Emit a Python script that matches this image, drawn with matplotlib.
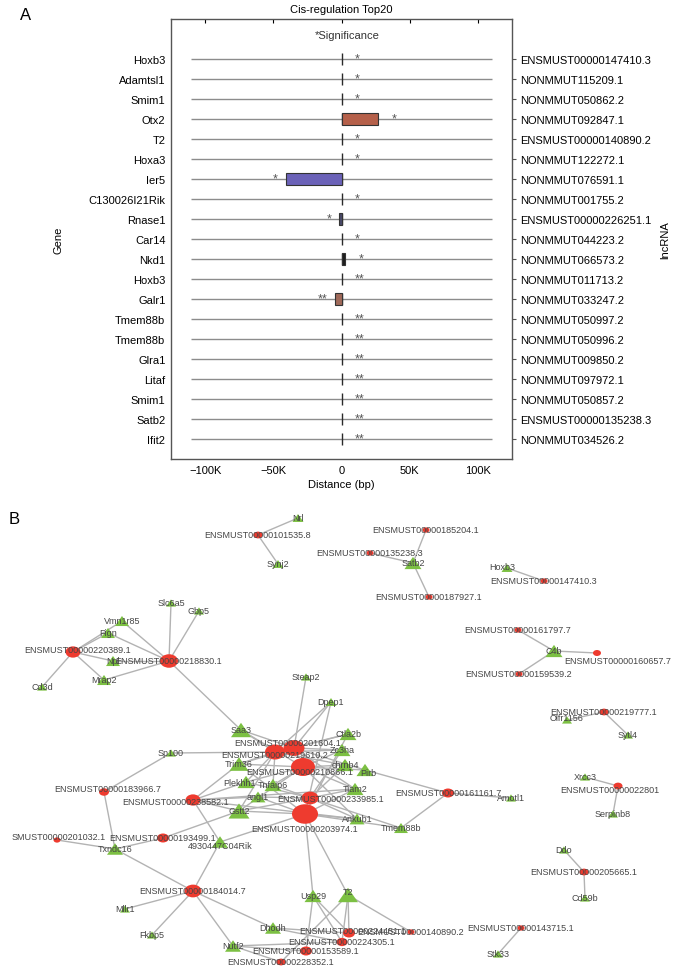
import matplotlib
matplotlib.use("Agg")
import matplotlib.pyplot as plt
from matplotlib.patches import Ellipse, Polygon
from matplotlib.collections import LineCollection

plt.rcParams["font.family"] = ["Liberation Sans", "DejaVu Sans"]

# ---- panel A data ----
genes = ["Hoxb3", "Adamtsl1", "Smim1", "Otx2", "T2", "Hoxa3", "Ier5", "C130026I21Rik",
         "Rnase1", "Car14", "Nkd1", "Hoxb3", "Galr1", "Tmem88b", "Tmem88b", "Glra1",
         "Litaf", "Smim1", "Satb2", "Ifit2"]
lncrnas = ["ENSMUST00000147410.3", "NONMMUT115209.1", "NONMMUT050862.2", "NONMMUT092847.1",
           "ENSMUST00000140890.2", "NONMMUT122272.1", "NONMMUT076591.1", "NONMMUT001755.2",
           "ENSMUST00000226251.1", "NONMMUT044223.2", "NONMMUT066573.2", "NONMMUT011713.2",
           "NONMMUT033247.2", "NONMMUT050997.2", "NONMMUT050996.2", "NONMMUT009850.2",
           "NONMMUT097972.1", "NONMMUT050857.2", "ENSMUST00000135238.3", "NONMMUT034526.2"]
distance = [0, 0, 0, 27000, 0, 0, -41000, 0, -1500, 0, 2500, 0, -5000, 0, 0, 0, 0, 0, 0, 0]
signif = ["*"] * 11 + ["**"] * 9
bar_colors = {3: "#b5604a", 6: "#6b62b8", 8: "#4a4a6a", 10: "#1e1e1e", 12: "#a06a5a"}

# ---- panel B data (node centres in pixel space, width in px) ----
lnc_nodes = {
    "ENSMUST00000101535.8": (258, 536, 9),
    "ENSMUST00000185204.1": (426, 531, 7),
    "ENSMUST00000135238.3": (370, 554, 7),
    "ENSMUST00000187927.1": (429, 598, 7),
    "ENSMUST00000147410.3": (544, 582, 7),
    "ENSMUST00000161797.7": (518, 631, 7),
    "ENSMUST00000160657.7": (597, 654, 8),
    "ENSMUST00000159539.2": (519, 675, 7),
    "ENSMUST00000220389.1": (73, 653, 15),
    "ENSMUST00000218830.1": (169, 662, 18),
    "ENSMUST00000183966.7": (104, 793, 10),
    "SMUST00000201032.1": (57, 841, 7),
    "ENSMUST00000193499.1": (163, 839, 12),
    "ENSMUST00000238582.1": (193, 801, 15),
    "ENSMUST00000219610.2": (275, 753, 20),
    "ENSMUST00000201604.1": (294, 749, 21),
    "ENSMUST00000210866.1": (303, 768, 24),
    "ENSMUST00000233985.1": (310, 799, 17),
    "ENSMUST00000203974.1": (305, 815, 26),
    "ENSMUST00000184014.7": (193, 892, 17),
    "ENSMUST00000161161.7": (448, 794, 12),
    "ENSMUST00000224451.1": (349, 934, 12),
    "ENSMUST00000224305.1": (342, 943, 11),
    "ENSMUST00000153589.1": (306, 952, 12),
    "ENSMUST00000228352.1": (281, 963, 9),
    "ENSMUST00000140890.2": (411, 933, 7),
    "ENSMUST00000143715.1": (521, 929, 7),
    "ENSMUST00000219777.1": (604, 713, 9),
    "ENSMUST00000022801": (618, 787, 9),
    "ENSMUST00000205665.1": (584, 873, 9),
}
gene_nodes = {
    "Nrl": (298, 519, 11), "Synj2": (278, 565, 11), "Satb2": (413, 564, 17),
    "Hoxb3": (507, 569, 11), "C4b": (554, 652, 17), "Slc6a5": (171, 604, 10),
    "Gbp5": (199, 612, 10), "Vmn1r85": (122, 622, 14), "Fign": (108, 634, 14),
    "Npl": (113, 662, 14), "Mrap2": (104, 681, 14), "Cd3d": (42, 688, 10),
    "Steap2": (306, 678, 10), "Saa3": (241, 731, 20), "Sp100": (171, 754, 10),
    "Txndc16": (115, 850, 16), "4930447C04Rik": (220, 843, 16), "Gstt2": (239, 812, 21),
    "angl1": (258, 798, 15), "Plekhh1": (246, 783, 17), "Tnfaip6": (273, 786, 17),
    "Trim36": (239, 765, 19), "Dpep1": (331, 703, 11), "Ctla2b": (348, 735, 17),
    "Zc3ha": (342, 751, 17), "chrnb4": (345, 766, 17), "Pirb": (365, 771, 17),
    "Tiam2": (355, 790, 17), "Ankub1": (357, 820, 15), "Tmem88b": (401, 829, 14),
    "Amotl1": (511, 799, 10), "Usp29": (313, 897, 17), "T2": (348, 896, 20),
    "Mllr1": (125, 910, 10), "Fkbp5": (152, 936, 10), "Dhodh": (273, 929, 16),
    "Nutf2": (233, 947, 16), "Stk33": (498, 955, 10), "Olfr1156": (567, 721, 10),
    "Sytl4": (628, 736, 10), "Xrcc3": (585, 778, 10), "Serpinb8": (613, 815, 10),
    "Ddo": (564, 851, 10), "Cd59b": (585, 899, 10),
}
label_shift = {
    "ENSMUST00000160657.7": (21, 8), "ENSMUST00000233985.1": (21, 1),
    "ENSMUST00000238582.1": (-17, 2), "ENSMUST00000201604.1": (-6, -5),
    "ENSMUST00000210866.1": (-3, 5), "ENSMUST00000203974.1": (0, 15),
    "ENSMUST00000022801": (-8, 4), "ENSMUST00000220389.1": (5, -2),
    "ENSMUST00000183966.7": (4, -3), "Hoxb3": (-5, -1), "Plekhh1": (-6, 1),
    "4930447C04Rik": (0, 4), "Pirb": (3, 3), "Olfr1156": (0, -2),
    "ENSMUST00000224451.1": (4, -2), "T2": (0, -3),
    "ENSMUST00000219610.2": (0, 3), "SMUST00000201032.1": (2, -3),
}
edges = [
    ("ENSMUST00000101535.8", "Nrl"), ("ENSMUST00000101535.8", "Synj2"),
    ("ENSMUST00000185204.1", "Satb2"), ("ENSMUST00000135238.3", "Satb2"),
    ("ENSMUST00000187927.1", "Satb2"), ("ENSMUST00000147410.3", "Hoxb3"),
    ("ENSMUST00000161797.7", "C4b"), ("ENSMUST00000160657.7", "C4b"),
    ("ENSMUST00000159539.2", "C4b"),
    ("ENSMUST00000220389.1", "Vmn1r85"), ("ENSMUST00000220389.1", "Fign"),
    ("ENSMUST00000220389.1", "Npl"), ("ENSMUST00000220389.1", "Mrap2"),
    ("ENSMUST00000220389.1", "Cd3d"),
    ("ENSMUST00000218830.1", "Slc6a5"), ("ENSMUST00000218830.1", "Gbp5"),
    ("ENSMUST00000218830.1", "Vmn1r85"), ("ENSMUST00000218830.1", "Fign"),
    ("ENSMUST00000218830.1", "Npl"), ("ENSMUST00000218830.1", "Mrap2"),
    ("ENSMUST00000218830.1", "Saa3"),
    ("ENSMUST00000183966.7", "Sp100"), ("ENSMUST00000183966.7", "Txndc16"),
    ("SMUST00000201032.1", "Txndc16"),
    ("ENSMUST00000193499.1", "Txndc16"), ("ENSMUST00000193499.1", "Gstt2"),
    ("ENSMUST00000238582.1", "Gstt2"), ("ENSMUST00000238582.1", "4930447C04Rik"),
    ("ENSMUST00000238582.1", "angl1"), ("ENSMUST00000238582.1", "Trim36"),
    ("ENSMUST00000238582.1", "Plekhh1"), ("ENSMUST00000238582.1", "Tiam2"),
    ("ENSMUST00000238582.1", "Ankub1"),
    ("ENSMUST00000184014.7", "Txndc16"), ("ENSMUST00000184014.7", "4930447C04Rik"),
    ("ENSMUST00000184014.7", "Mllr1"), ("ENSMUST00000184014.7", "Fkbp5"),
    ("ENSMUST00000184014.7", "Nutf2"), ("ENSMUST00000184014.7", "Dhodh"),
    ("ENSMUST00000161161.7", "Pirb"), ("ENSMUST00000161161.7", "Amotl1"),
    ("ENSMUST00000161161.7", "Tmem88b"),
    ("ENSMUST00000224451.1", "Usp29"), ("ENSMUST00000224451.1", "T2"),
    ("ENSMUST00000224451.1", "Dhodh"),
    ("ENSMUST00000224305.1", "Usp29"), ("ENSMUST00000224305.1", "T2"),
    ("ENSMUST00000224305.1", "Dhodh"), ("ENSMUST00000224305.1", "Nutf2"),
    ("ENSMUST00000153589.1", "Usp29"), ("ENSMUST00000153589.1", "Nutf2"),
    ("ENSMUST00000228352.1", "T2"), ("ENSMUST00000228352.1", "Nutf2"),
    ("ENSMUST00000140890.2", "T2"), ("ENSMUST00000143715.1", "Stk33"),
    ("ENSMUST00000219777.1", "Olfr1156"), ("ENSMUST00000219777.1", "Sytl4"),
    ("ENSMUST00000022801", "Xrcc3"), ("ENSMUST00000022801", "Serpinb8"),
    ("ENSMUST00000205665.1", "Ddo"), ("ENSMUST00000205665.1", "Cd59b"),
]
hub_links = {
    "ENSMUST00000219610.2": ["Saa3", "Sp100", "Trim36", "Plekhh1", "Tnfaip6", "Ctla2b",
                             "Zc3ha", "chrnb4", "Gstt2", "Dpep1"],
    "ENSMUST00000201604.1": ["Saa3", "Steap2", "Trim36", "Ctla2b", "Zc3ha", "Pirb",
                             "Tiam2", "Dpep1"],
    "ENSMUST00000210866.1": ["Saa3", "Trim36", "Plekhh1", "Tnfaip6", "Zc3ha", "chrnb4",
                             "Pirb", "Tiam2", "Ankub1", "Gstt2"],
    "ENSMUST00000233985.1": ["Plekhh1", "angl1", "Tnfaip6", "chrnb4", "Tiam2", "Ankub1",
                             "Tmem88b", "Gstt2", "Zc3ha"],
    "ENSMUST00000203974.1": ["Gstt2", "angl1", "Trim36", "Ankub1", "Tmem88b", "Tiam2",
                             "Usp29", "T2", "4930447C04Rik", "Dpep1", "Ctla2b"],
}
for hub, targets in hub_links.items():
    for g in targets:
        edges.append((hub, g))


def plot_panel_a(fig):
    ax = fig.add_axes([171 / 677, 1 - 460 / 978, 341 / 677, 440 / 978])
    rows = list(range(len(genes)))
    ax.hlines(rows, -110000, 110000, color="#8c8c8c", lw=1.0, zorder=1)
    ax.vlines([0] * len(rows), [r - 0.28 for r in rows], [r + 0.28 for r in rows],
              color="#2a2a2a", lw=1.0, zorder=2)
    for i, d in enumerate(distance):
        if i in bar_colors:
            ax.barh(i, d, height=0.6, left=0, color=bar_colors[i], edgecolor="#333333",
                    lw=0.8, zorder=3)
        if d >= 0:
            ax.text(d + 10000, i - 0.05, signif[i], ha="left", va="center",
                    fontsize=9, color="#555555")
        else:
            ax.text(d - 5500, i - 0.05, signif[i], ha="right", va="center",
                    fontsize=9, color="#555555")
    ax.text(4000, -1.2, "*Significance", ha="center", va="center", fontsize=8,
            color="#333333")
    ax.set_xlim(-125000, 125000)
    ax.set_ylim(20.0, -2.0)
    ax.set_yticks(rows)
    ax.set_yticklabels(genes, fontsize=8)
    ax.set_xticks([-100000, -50000, 0, 50000, 100000])
    ax.set_xticklabels(["\u2212100K", "\u221250K", "0", "50K", "100K"], fontsize=8)
    ax.tick_params(axis="x", direction="in", top=True, bottom=False, length=3, pad=4)
    ax.tick_params(axis="y", length=0, pad=4)
    ax.set_xlabel("Distance (bp)", fontsize=8, labelpad=3)
    ax.set_ylabel("Gene", fontsize=8, labelpad=18)
    ax.set_title("Cis-regulation Top20", fontsize=8, pad=5)
    for s in ax.spines.values():
        s.set_color("#555555")
        s.set_linewidth(1.0)

    ax2 = ax.twinx()
    ax2.set_ylim(20.0, -2.0)
    ax2.set_yticks(rows)
    ax2.set_yticklabels(lncrnas, fontsize=8)
    ax2.tick_params(axis="y", length=3, pad=3, color="#555555")
    ax2.set_ylabel("lncRNA", fontsize=8, rotation=90, labelpad=6)
    for s in ax2.spines.values():
        s.set_visible(False)


def plot_panel_b(fig):
    ax = fig.add_axes([0, 0, 1, 500 / 978])
    ax.set_xlim(0, 677)
    ax.set_ylim(978, 478)
    ax.axis("off")
    pos = {}
    pos.update({k: (v[0], v[1]) for k, v in lnc_nodes.items()})
    pos.update({k: (v[0], v[1]) for k, v in gene_nodes.items()})
    segs = [[pos[a], pos[b]] for a, b in edges]
    ax.add_collection(LineCollection(segs, colors="#b3b3b3", linewidths=1.0, zorder=1))

    for name, (x, y, w) in lnc_nodes.items():
        ax.add_patch(Ellipse((x, y), w, w * 0.75, facecolor="#ee3b2f",
                             edgecolor="none", zorder=2))
    for name, (x, y, w) in gene_nodes.items():
        h = w * 0.72
        ax.add_patch(Polygon([(x - w / 2, y + h / 2), (x + w / 2, y + h / 2),
                              (x, y - h / 2)], closed=True, facecolor="#7cc043",
                             edgecolor="none", zorder=2))
    for name, (x, y) in pos.items():
        dx, dy = label_shift.get(name, (0, 0))
        ax.text(x + dx, y + dy, name, ha="center", va="center", fontsize=6.5,
                color="#454545", zorder=3, clip_on=True)


fig = plt.figure(figsize=(6.77, 9.78), dpi=100)
plot_panel_b(fig)
plot_panel_a(fig)
fig.text(20 / 677, 1 - 15 / 978, "A", fontsize=12, ha="left", va="center")
fig.text(9 / 677, 1 - 520 / 978, "B", fontsize=12, ha="left", va="center")
fig.savefig("out.png", dpi=100)
